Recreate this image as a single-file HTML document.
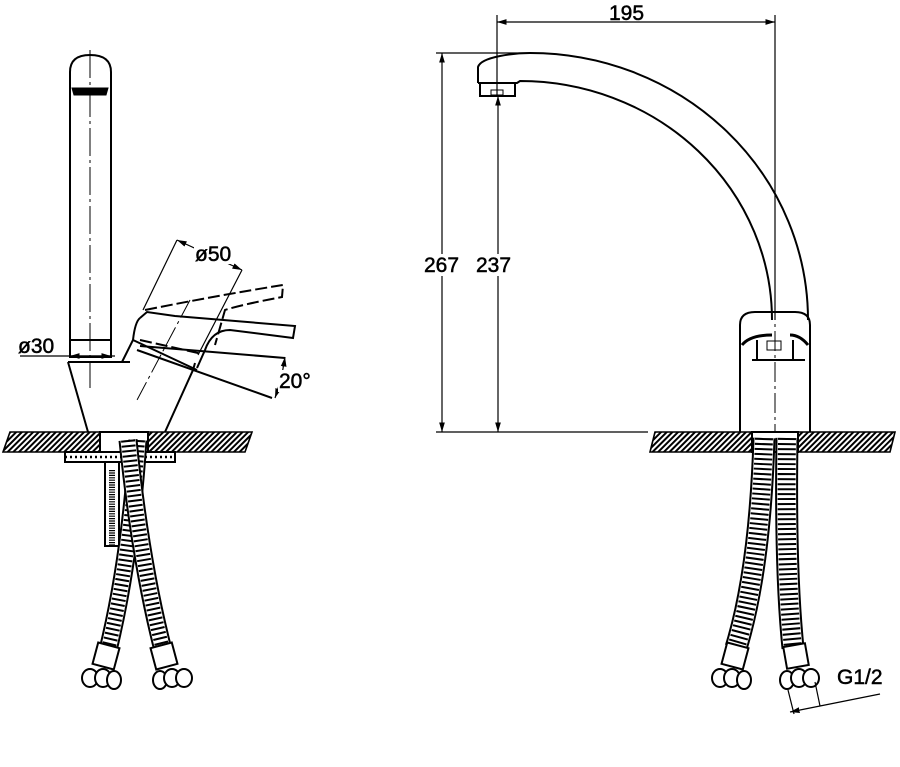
<!DOCTYPE html>
<html><head><meta charset="utf-8"><style>
html,body{margin:0;padding:0;background:#fff}
svg{display:block}
text{font-family:"Liberation Sans","DejaVu Sans",sans-serif;font-size:21px;fill:#000;stroke:#000;stroke-width:0.5}
</style></head><body>
<svg width="900" height="767" viewBox="0 0 900 767" xmlns="http://www.w3.org/2000/svg">
<defs>
<pattern id="hatch" width="4" height="4" patternUnits="userSpaceOnUse" patternTransform="rotate(45)">
<rect width="4" height="4" fill="#fff"/><rect width="2" height="4" fill="#000"/>
</pattern>
<marker id="ar" viewBox="0 0 10 10" refX="10" refY="5" markerWidth="8" markerHeight="8" orient="auto-start-reverse"><path d="M0,2 L10,5 L0,8z" fill="#000"/></marker>
</defs>
<g fill="none" stroke="#000" stroke-width="2">
<!-- LEFT VIEW -->
<path d="M70,340 L70,72 Q70,55 90,55 Q111,55 111,72 L111,340"/>
<path d="M72,88 L108,88 L106,95 L74,95 Z" fill="#000" stroke-width="1"/>
<rect x="70" y="340" width="41" height="17"/>
<line x1="90" y1="50" x2="90" y2="388" stroke-width="1" stroke-dasharray="28 4 3 4"/>
<line x1="20" y1="356" x2="115" y2="356" stroke-width="1.2"/>
<line x1="70" y1="356" x2="111" y2="356" stroke-width="1.2" marker-start="url(#ar)" marker-end="url(#ar)"/>
<path d="M68,362 L88,432 M165,432 L193,370 L195,363 M68,362 L130,362 M122,362 L133,340 Q135,322 140,318"/>
<!-- handle -->
<path d="M133,340 L197,370 M140,318 L147,312 L175,316 Q250,322 295,326 L293,338 L230,330 Q212,330 205,350 L197,368"/>
<path d="M145,310 Q220,295 283,285 L282,297 Q240,305 225,310 L215,345" stroke-dasharray="12 4"/>
<path d="M140,340 Q185,350 202,354" stroke-dasharray="12 4"/>
<line x1="137" y1="350" x2="272" y2="398"/>
<line x1="140" y1="346" x2="285" y2="358"/>
<line x1="190" y1="300" x2="137" y2="400" stroke-width="1" stroke-dasharray="20 4 3 4"/>
<line x1="177" y1="240" x2="143" y2="310" stroke-width="1.2"/>
<line x1="242" y1="270" x2="198" y2="355" stroke-width="1.2"/>
<line x1="177" y1="240" x2="242" y2="270" stroke-width="1.2" marker-start="url(#ar)" marker-end="url(#ar)"/>
<path d="M285,357 Q282,378 275,398" stroke-width="1.2" marker-start="url(#ar)" marker-end="url(#ar)"/>
<!-- counter left -->
<path d="M10,432 L252,432 L245,452 L3,452 Z" fill="url(#hatch)" stroke-width="1.6"/>
<rect x="100" y="432" width="48" height="20" fill="#fff"/>
<rect x="65" y="452" width="110" height="10" fill="#fff"/>
<line x1="65" y1="457" x2="175" y2="457" stroke-width="2.5" stroke-dasharray="2 3"/>
<rect x="105" y="462" width="14" height="84" fill="#fff"/>
<line x1="112" y1="470" x2="112" y2="545" stroke-width="6" stroke-dasharray="1.2 1.2"/>
<!-- hoses left -->
<g>
<path d="M138,440 Q130,560 108,650" stroke-width="19"/>
<path d="M138,440 Q130,560 108,650" stroke="#fff" stroke-width="15"/>
<path d="M138,440 Q130,560 108,650" stroke-width="14" stroke-dasharray="2 3"/>
<path d="M128,440 Q140,560 163,650" stroke-width="19"/>
<path d="M128,440 Q140,560 163,650" stroke="#fff" stroke-width="15"/>
<path d="M128,440 Q140,560 163,650" stroke-width="14" stroke-dasharray="2 3"/>
</g>
<g fill="#fff">
<rect x="95" y="645" width="22" height="22" transform="rotate(15 106 656)"/>
<rect x="153" y="645" width="22" height="22" transform="rotate(-15 164 656)"/>
<ellipse cx="90" cy="678" rx="8" ry="9"/><ellipse cx="103" cy="678" rx="8" ry="9"/><ellipse cx="114" cy="680" rx="7" ry="9"/>
<ellipse cx="160" cy="680" rx="7" ry="9"/><ellipse cx="172" cy="678" rx="8" ry="9"/><ellipse cx="184" cy="678" rx="8" ry="9"/>
</g>
<!-- RIGHT VIEW -->
<line x1="497" y1="15" x2="497" y2="95" stroke-width="1.2"/>
<line x1="775" y1="15" x2="775" y2="320" stroke-width="1.2"/>
<line x1="497" y1="22" x2="775" y2="22" stroke-width="1.2" marker-start="url(#ar)" marker-end="url(#ar)"/>
<line x1="436" y1="53" x2="530" y2="53" stroke-width="1.2"/>
<line x1="436" y1="432" x2="648" y2="432" stroke-width="1.2"/>
<line x1="442" y1="53" x2="442" y2="432" stroke-width="1.2" marker-start="url(#ar)" marker-end="url(#ar)"/>
<line x1="498" y1="96" x2="498" y2="432" stroke-width="1.2" marker-start="url(#ar)" marker-end="url(#ar)"/>
<path d="M478,83 L478,67 Q480,60 500,56 Q515,53 530,53 A278,267 0 0 1 808,320"/>
<path d="M478,83 L517,83 L520,81 A252,239 0 0 1 772,320"/>
<path d="M480,84 L480,96 L515,96 L515,84"/>
<rect x="491" y="90" width="12" height="5" stroke-width="1"/>
<!-- body right -->
<path d="M740,432 L740,325 Q740,312 755,312 L795,312 Q810,312 810,325 L810,432"/>
<path d="M742,345 Q750,335 772,335 M808,345 Q800,335 790,335" stroke-width="3"/>
<line x1="752" y1="360" x2="805" y2="360"/>
<line x1="757" y1="340" x2="757" y2="360"/><line x1="793" y1="340" x2="793" y2="360"/>
<rect x="767" y="341" width="14" height="9" stroke-width="1"/>
<line x1="775" y1="300" x2="775" y2="440" stroke-width="1" stroke-dasharray="20 4 3 4"/>
<path d="M655,432 L895,432 L890,452 L650,452 Z" fill="url(#hatch)" stroke-width="1.6"/>
<rect x="752" y="432" width="46" height="20" fill="#fff"/>
<g>
<path d="M764,438 Q760,570 736,648" stroke-width="23"/>
<path d="M764,438 Q760,570 736,648" stroke="#fff" stroke-width="19"/>
<path d="M764,438 Q760,570 736,648" stroke-width="18" stroke-dasharray="2 3"/>
<path d="M787,438 Q785,570 793,648" stroke-width="23"/>
<path d="M787,438 Q785,570 793,648" stroke="#fff" stroke-width="19"/>
<path d="M787,438 Q785,570 793,648" stroke-width="18" stroke-dasharray="2 3"/>
</g>
<g fill="#fff">
<rect x="724" y="645" width="22" height="22" transform="rotate(15 735 656)"/>
<rect x="785" y="645" width="22" height="22" transform="rotate(-10 796 656)"/>
<ellipse cx="720" cy="678" rx="8" ry="9"/><ellipse cx="732" cy="678" rx="8" ry="9"/><ellipse cx="744" cy="680" rx="7" ry="9"/>
<ellipse cx="787" cy="680" rx="7" ry="9"/><ellipse cx="799" cy="678" rx="8" ry="9"/><ellipse cx="811" cy="678" rx="8" ry="9"/>
</g>
<line x1="788" y1="690" x2="794" y2="714" stroke-width="1.2"/>
<line x1="815" y1="682" x2="820" y2="706" stroke-width="1.2"/>
<line x1="790" y1="712" x2="880" y2="694" stroke-width="1.2" marker-start="url(#ar)"/>
</g>
<g fill="#fff">
<rect x="194" y="244" width="40" height="20"/>
<rect x="278" y="370" width="34" height="22"/>
<rect x="422" y="254" width="40" height="22"/>
<rect x="474" y="254" width="40" height="22"/>
</g>
<text x="18" y="353">ø30</text>
<text x="195" y="261">ø50</text>
<text x="279" y="388">20°</text>
<text x="609" y="20">195</text>
<text x="424" y="272">267</text>
<text x="476" y="272">237</text>
<text x="837" y="684">G1/2</text>
</svg>
</body></html>
